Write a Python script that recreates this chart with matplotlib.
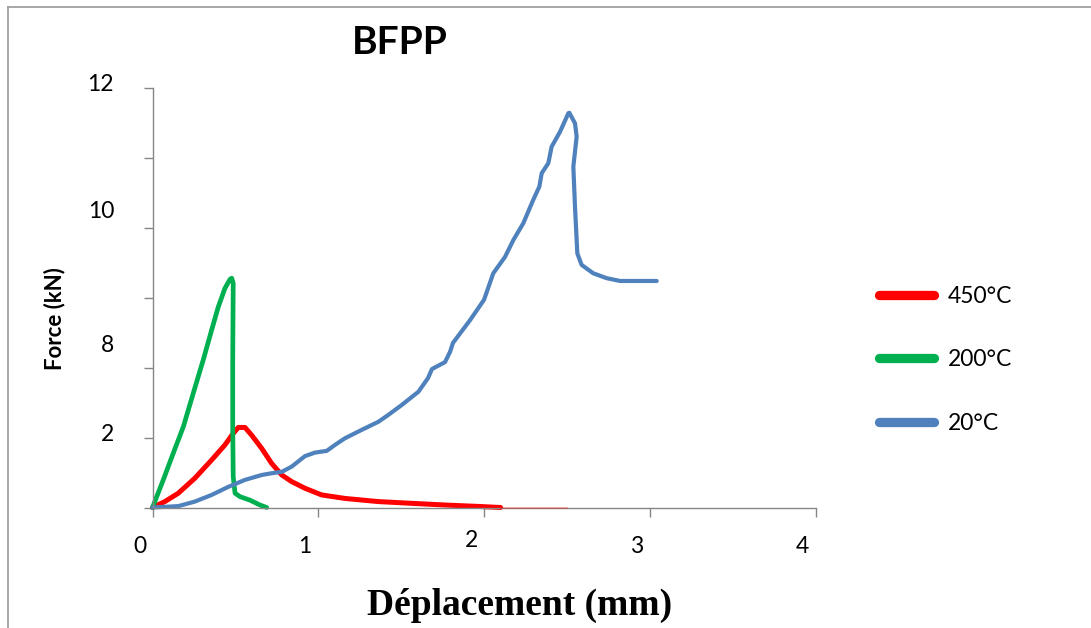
import matplotlib
matplotlib.use("Agg")
import matplotlib.pyplot as plt
from matplotlib.lines import Line2D

plt.rcParams["font.family"] = ["Lato", "DejaVu Sans"]

# Force-displacement curves of BFPP specimens at three temperatures
disp_450 = [0.0, 0.075, 0.156, 0.256, 0.357, 0.437, 0.487, 0.518, 0.558, 0.598,
            0.659, 0.719, 0.78, 0.84, 0.92, 1.02, 1.16, 1.36, 1.56, 1.77, 1.97,
            2.10, 2.50]
force_450 = [0.0, 0.17, 0.41, 0.84, 1.36, 1.79, 2.12, 2.29, 2.29, 2.07,
             1.69, 1.26, 0.93, 0.74, 0.55, 0.36, 0.26, 0.17, 0.12, 0.07, 0.03,
             0.0, 0.0]

disp_200 = [0.0, 0.065, 0.125, 0.186, 0.246, 0.306, 0.357, 0.397, 0.437, 0.468,
            0.478, 0.487, 0.484, 0.484, 0.487, 0.498, 0.528, 0.588, 0.649, 0.689]
force_200 = [0.0, 0.79, 1.55, 2.31, 3.27, 4.22, 5.08, 5.74, 6.27, 6.53,
             6.56, 6.41, 4.22, 2.31, 0.88, 0.41, 0.31, 0.21, 0.07, 0.0]

disp_20 = [0.0, 0.156, 0.256, 0.357, 0.457, 0.558, 0.659, 0.719, 0.78, 0.84,
           0.92, 0.98, 1.051, 1.101, 1.161, 1.262, 1.362, 1.423, 1.503, 1.604,
           1.662, 1.686, 1.765, 1.795, 1.813, 1.916, 2.0, 2.056, 2.127, 2.177,
           2.237, 2.297, 2.334, 2.348, 2.388, 2.408, 2.459, 2.509, 2.515, 2.549,
           2.559, 2.539, 2.549, 2.563, 2.589, 2.659, 2.740, 2.821, 3.042]
force_20 = [0.0, 0.04, 0.17, 0.36, 0.59, 0.79, 0.93, 0.98, 1.02, 1.17,
            1.47, 1.57, 1.62, 1.79, 1.98, 2.22, 2.45, 2.65, 2.93, 3.31,
            3.70, 3.96, 4.16, 4.45, 4.71, 5.36, 5.94, 6.70, 7.17, 7.65,
            8.13, 8.80, 9.18, 9.56, 9.85, 10.32, 10.75, 11.28, 11.29, 10.99,
            10.61, 9.75, 8.60, 7.27, 6.94, 6.70, 6.56, 6.48, 6.48]

series_labels = ["450°C", "200°C", "20°C"]
series_colors = ["#FF0000", "#00B050", "#4F81BD"]

x_ticks = [0, 1, 2, 3, 4]
x_tick_labels = ["0", "1", "2", "3", "4"]
y_ticks = [0, 2, 4, 6, 8, 10, 12]
y_tick_labels = ["12", "10", "8", "2"]
y_tick_label_pos = [12.09, 8.48, 4.63, 2.09]

W, H = 1091, 628
fig = plt.figure(figsize=(W / 100, H / 100), dpi=100)
ax = fig.add_axes([152.5 / W, 1 - 507.5 / H, 663 / W, 419.5 / H])

widths = [3.6, 3.4, 3.0]
all_x = [disp_450, disp_200, disp_20]
all_y = [force_450, force_200, force_20]
for xs, ys, lab, col, lw in zip(all_x, all_y, series_labels, series_colors,
                                widths):
    # the flat zero-force tail of the 450°C curve sits on the axis line
    n = len(xs)
    if lab == "450°C":
        n = xs.index(2.10) + 1
        ax.plot(xs[n - 1:], ys[n - 1:], color=col, lw=1.2, alpha=0.35,
                clip_on=False, zorder=3)
    ax.plot(xs[:n], ys[:n], color=col, lw=lw, label=lab, clip_on=False,
            solid_joinstyle="round", solid_capstyle="round")

ax.set_xlim(0, 4)
ax.set_ylim(0, 12)
ax.set_xticks(x_ticks)
ax.set_yticks(y_ticks)
ax.set_xticklabels([])
ax.set_yticklabels([])

axis_gray = "#868686"
for side in ("top", "right"):
    ax.spines[side].set_visible(False)
for side in ("left", "bottom"):
    ax.spines[side].set_color(axis_gray)
    ax.spines[side].set_linewidth(1.0)
ax.tick_params(axis="both", direction="out", length=6.8, width=1.0,
               color=axis_gray)

# hand-placed tick labels
xlab_x = [-0.078, 0.92, 1.926, 2.92, 3.921]
xlab_y = [-0.0934, -0.0934, -0.079, -0.0934, -0.0934]
for xv, yv, t in zip(xlab_x, xlab_y, x_tick_labels):
    ax.text(xv, yv, t, transform=ax.get_xaxis_transform(), ha="center",
            va="center", fontsize=16.5, color="black")
for yv, t in zip(y_tick_label_pos, y_tick_labels):
    ax.text(-0.058, yv, t, transform=ax.get_yaxis_transform(), ha="right",
            va="center", fontsize=16.5, color="black")

fig.text(399.5 / W, 1 - 43 / H, "BFPP", ha="center", va="center",
         fontsize=28, fontweight="bold")
fig.text(54.4 / W, 1 - 319 / H, "Force (kN)", ha="center", va="center",
         rotation=90, fontsize=16, fontweight="bold")
fig.text(520 / W, 1 - 615 / H, "Déplacement (mm)", ha="center",
         va="baseline", fontsize=27, fontweight="bold",
         family=["Liberation Serif", "DejaVu Serif"])

leg = ax.legend(loc="upper left", bbox_to_anchor=(879 / W, 1 - 286 / H),
                bbox_transform=fig.transFigure, frameon=False, fontsize=16.5,
                handlelength=2.4, handletextpad=0.6, labelspacing=1.85,
                borderpad=0, borderaxespad=0)
for ln in leg.get_lines():
    ln.set_linewidth(6.7)
    ln.set_solid_capstyle("round")

# outer frame of the chart area
frame_col = "#A0A0A0"
fig.add_artist(Line2D([8.3 / W, 1.0], [1 - 7.3 / H, 1 - 7.3 / H],
                      transform=fig.transFigure, color=frame_col, lw=1.3))
fig.add_artist(Line2D([8.3 / W, 8.3 / W], [0.0, 1 - 7.3 / H],
                      transform=fig.transFigure, color=frame_col, lw=1.3))

fig.savefig("out.png", dpi=100)
